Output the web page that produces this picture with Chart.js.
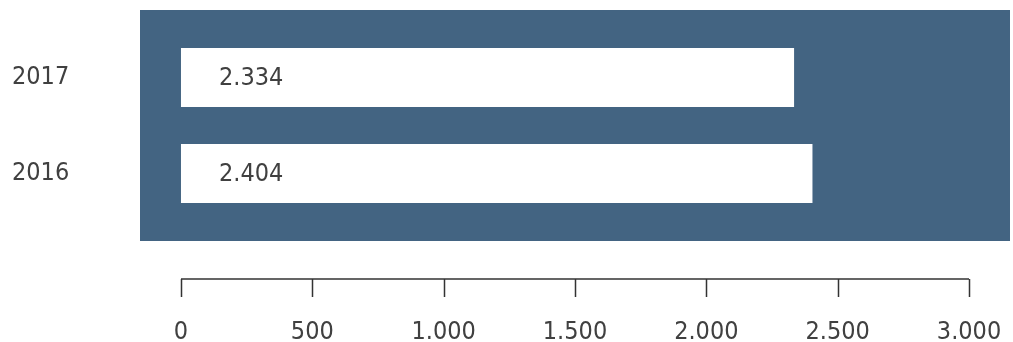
<!DOCTYPE html>
<html>
<head>
<meta charset="utf-8">
<script src="https://cdn.jsdelivr.net/npm/chart.js@4/dist/chart.umd.min.js"></script>
<style>
  html, body { margin: 0; padding: 0; background: #ffffff; }
  #wrap { width: 1013px; height: 342px; position: relative; }
</style>
</head>
<body>
<div id="wrap"><canvas id="c"></canvas></div>
<script>
// ---- data ----
const categories = ['2017', '2016'];
const values = [2334, 2404];
const tickValues = [0, 500, 1000, 1500, 2000, 2500, 3000];
const axisMin = -156;
const axisMax = 3156;

// ---- style ----
const FONT = "'Liberation Sans Narrow', 'Arial Narrow', 'DejaVu Sans Condensed', sans-serif";
const FONT_SIZE = 25;
const TEXT_COLOR = '#404040';
const PANEL_COLOR = '#436482';
const AXIS_COLOR = '#333333';

const fmt = v => Number(v).toLocaleString('de-DE');

const panelPlugin = {
  id: 'panel',
  beforeDatasetsDraw(chart) {
    const { ctx, chartArea } = chart;
    ctx.save();
    ctx.fillStyle = PANEL_COLOR;
    ctx.fillRect(chartArea.left, chartArea.top - 19.5, chartArea.right - chartArea.left, chartArea.bottom - chartArea.top + 39);
    ctx.restore();
  },
  afterDatasetsDraw(chart) {
    const { ctx } = chart;
    const meta = chart.getDatasetMeta(0);
    ctx.save();
    ctx.fillStyle = TEXT_COLOR;
    ctx.font = FONT_SIZE + 'px ' + FONT;
    ctx.textAlign = 'left';
    ctx.textBaseline = 'middle';
    meta.data.forEach((bar, i) => {
      ctx.fillText(fmt(values[i]), bar.base + 38, bar.y + 1);
    });
    ctx.restore();
  },
  afterDraw(chart) {
    const { ctx, chartArea } = chart;
    const xs = chart.scales.x;
    const y0 = chartArea.bottom + 57.5;
    ctx.save();
    ctx.strokeStyle = AXIS_COLOR;
    ctx.lineWidth = 1.5;
    ctx.beginPath();
    ctx.moveTo(xs.getPixelForValue(tickValues[0]), y0);
    ctx.lineTo(xs.getPixelForValue(tickValues[tickValues.length - 1]), y0);
    xs.ticks.forEach(t => {
      const px = Math.round(xs.getPixelForValue(t.value)) + 0.5;
      ctx.moveTo(px, y0);
      ctx.lineTo(px, y0 + 18);
    });
    ctx.stroke();
    ctx.restore();
  }
};

new Chart(document.getElementById('c'), {
  type: 'bar',
  data: {
    labels: categories,
    datasets: [{
      data: values,
      backgroundColor: '#ffffff',
      borderWidth: 0,
      categoryPercentage: 1,
      barPercentage: 59 / 96
    }]
  },
  options: {
    indexAxis: 'y',
    responsive: true,
    maintainAspectRatio: false,
    animation: false,
    devicePixelRatio: 1,
    layout: { padding: { top: 29.5, left: 12, right: 3, bottom: 0 } },
    font: { family: FONT, size: FONT_SIZE },
    plugins: {
      legend: { display: false },
      tooltip: { enabled: false }
    },
    scales: {
      x: {
        type: 'linear',
        min: axisMin,
        max: axisMax,
        afterBuildTicks(scale) { scale.ticks = tickValues.map(v => ({ value: v })); },
        afterFit(scale) {
          scale.height = 120.5;
          scale.paddingLeft = 0;
          scale.paddingRight = 0;
        },
        grid: { display: false, drawTicks: false },
        border: { display: false },
        ticks: {
          padding: 96,
          color: TEXT_COLOR,
          font: { family: FONT, size: FONT_SIZE },
          maxRotation: 0,
          autoSkip: false,
          callback: v => fmt(v)
        }
      },
      y: {
        type: 'category',
        afterFit(scale) {
          scale.width = 128;
          scale.paddingTop = 0;
          scale.paddingBottom = 0;
        },
        grid: { display: false, drawTicks: false },
        border: { display: false },
        ticks: {
          crossAlign: 'far',
          padding: 0,
          color: TEXT_COLOR,
          font: { family: FONT, size: FONT_SIZE }
        }
      }
    }
  },
  plugins: [panelPlugin]
});
</script>
</body>
</html>
